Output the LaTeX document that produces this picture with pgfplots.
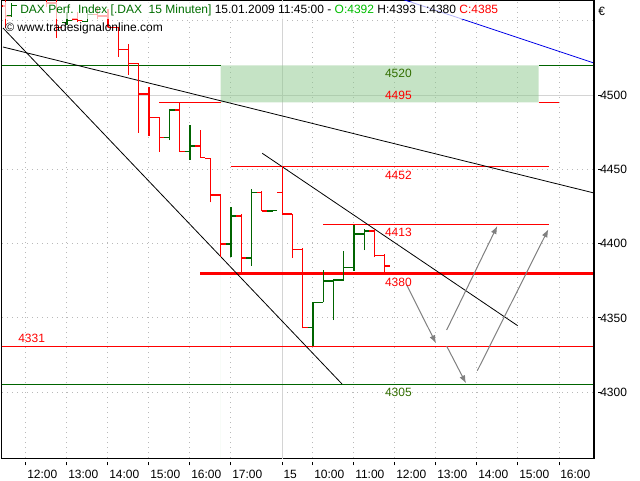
\documentclass[border=0pt]{standalone}
\usepackage{pgfplots}
\pgfplotsset{compat=1.18}
\usepackage{pgfplotstable}
\usepackage{fontspec}
\setmainfont{Liberation Sans}
\usetikzlibrary{arrows.meta}

\definecolor{barred}{RGB}{255,0,0}
\definecolor{bargreen}{RGB}{0,100,0}
\definecolor{linegreen}{RGB}{0,100,0}
\definecolor{lblgreen}{RGB}{50,110,0}
\definecolor{titlegreen}{RGB}{0,110,0}
\definecolor{ogreen}{RGB}{0,190,0}
\definecolor{gridgray}{RGB}{185,185,185}
\definecolor{sepgray}{RGB}{212,212,212}
\definecolor{boxgreen}{RGB}{140,200,140}
\definecolor{arrowgray}{RGB}{128,128,128}
\definecolor{trendblue}{RGB}{0,0,230}

% 15-minute OHLC bars, k = bar index (12:00 = 0, 15 Jan 10:00 = 28)
\pgfplotstableread{
k O H L C
-1 4567 4576 4565 4572
0 4572 4580 4568 4574
4 4548.7 4556 4547 4550
6 4549.5 4557 4549 4554
14 4471.5 4490 4469.7 4489.9
16 4461.9 4479.8 4456.3 4465.7
20 4399.8 4424.9 4390.8 4418.6
22 4390.2 4436.8 4385 4434.3
24 4422 4422.3 4421.7 4422.3
28 4343.5 4361 4331 4360.5
29 4360.5 4382.3 4360.5 4374.9
30 4374.9 4376.2 4348.6 4375.5
31 4375.5 4395 4375.5 4384.1
32 4384.1 4412.5 4381.8 4406.5
33 4406.5 4410 4395.7 4408.5
}\upbars
\pgfplotstableread{
k O H L C
-2 4560 4566 4545 4553
1 4574 4577 4566 4567
2 4567 4569 4559 4562
3 4562 4564 4538.6 4545.5
5 4551 4556 4549 4550
7 4554 4560 4551 4553
8 4553 4558 4545.5 4545.5
9 4545.5 4546 4525.8 4530.7
10 4530.7 4534.3 4513.5 4521.3
11 4521.3 4521.5 4474.6 4500.7
12 4500.7 4505.6 4472.4 4485
13 4485 4485.4 4461.9 4471.5
15 4489.9 4495 4461.9 4461.9
17 4465.7 4476.5 4458 4458
18 4457.4 4457.4 4427.8 4432.7
19 4432.7 4432.7 4391.2 4399.8
21 4418.6 4420 4380 4390.2
23 4434.3 4435.4 4422 4422
25 4434.3 4452 4420 4420
26 4420 4420 4390.2 4396.2
27 4396.2 4396.8 4343 4343.5
34 4408.5 4410 4391 4392
35 4392 4393 4380 4385
}\downbars

\begin{document}
\begin{tikzpicture}[font=\fontsize{9pt}{11pt}\selectfont]
\begin{axis}[
  scale only axis, width=444pt, height=342.75pt,
  xmin=-2.341, xmax=55.415, ymin=4255.8, ymax=4563.24,
  axis line style={black, line width=0.75pt},
  xtick={0,4,8,12,16,20,25,28,32,36,40,44,48,52},
  xticklabels={12:00,13:00,14:00,15:00,16:00,17:00,15,10:00,11:00,12:00,13:00,14:00,15:00,16:00},
  ytick={4300,4350,4400,4450,4500},
  extra y ticks={4550}, extra y tick labels={},
  extra y tick style={major tick length=0pt, grid=major},
  xtick pos=bottom, ytick pos=right, yticklabel pos=right,
  xmajorgrids, ymajorgrids,
  major grid style={gridgray, line width=0.75pt, dash pattern=on 0.75pt off 3pt},
  tick align=outside, major tick length=2.5pt,
  xtick style={black, line width=0.75pt, yshift=-3pt},
  ytick style={black, line width=0.75pt, xshift=3pt},
  xticklabel style={anchor=north west, inner sep=0pt, xshift=0.75pt, yshift=-6.5pt},
  yticklabel style={anchor=west, inner sep=0pt, xshift=2pt},
  tick label style={font=\fontsize{9pt}{11pt}\selectfont},
  /pgf/number format/assume math mode=true,
  /pgf/number format/1000 sep={},
]
% solid light-grey lines: day separator and 4500
\addplot[sepgray, line width=0.75pt] coordinates {(25,4200) (25,4600)};
\addplot[sepgray, line width=0.75pt] coordinates {(-5,4500) (60,4500)};

% resistance zone 4495-4520
\addplot[draw=none, fill=boxgreen, fill opacity=0.5] coordinates {(19,4495) (50,4495) (50,4520) (19,4520)} \closedcycle;

% horizontal levels
\addplot[linegreen, line width=0.75pt] coordinates {(-5,4520) (19,4520)};
\addplot[linegreen, line width=0.75pt] coordinates {(50,4520) (60,4520)};
\addplot[barred, line width=0.75pt] coordinates {(13,4495) (19,4495)};
\addplot[barred, line width=0.75pt] coordinates {(50,4495) (52,4495)};
\addplot[barred, line width=0.75pt] coordinates {(20,4452) (51,4452)};
\addplot[barred, line width=0.75pt] coordinates {(29,4413) (51,4413)};
\addplot[barred, line width=2.25pt] coordinates {(17,4380) (60,4380)};
\addplot[barred, line width=0.75pt] coordinates {(-5,4331) (60,4331)};
\addplot[linegreen, line width=0.75pt] coordinates {(-5,4305) (60,4305)};

% trend lines
\addplot[black, line width=0.6pt] coordinates {(-2.244,4545.07) (30.83,4305.6)};
\addplot[black, line width=0.6pt] coordinates {(-2.244,4532.3) (55.41,4434.1)};
\addplot[black, line width=0.6pt] coordinates {(23.05,4460.8) (47.97,4344.8)};
\addplot[trendblue, line width=0.6pt] coordinates {(36.0,4566.1) (55.41,4521.5)};

% OHLC bars
\addplot[barred, line width=0.8pt, quiver={u=0, v=\thisrow{H}-\thisrow{L}}] table[x=k, y=L] {\downbars};
\addplot[barred, line width=1.1pt, quiver={u=0.5, v=0}] table[x expr=\thisrow{k}-0.5, y=O] {\downbars};
\addplot[barred, line width=1.1pt, quiver={u=0.5, v=0}] table[x=k, y=C] {\downbars};
\addplot[bargreen, line width=0.8pt, quiver={u=0, v=\thisrow{H}-\thisrow{L}}] table[x=k, y=L] {\upbars};
\addplot[bargreen, line width=1.1pt, quiver={u=0.5, v=0}] table[x expr=\thisrow{k}-0.5, y=O] {\upbars};
\addplot[bargreen, line width=1.1pt, quiver={u=0.5, v=0}] table[x=k, y=C] {\upbars};

% scenario arrows
\addplot[arrowgray, line width=0.75pt, -{Latex[length=6pt, width=4.5pt]}] coordinates {(37.14,4372.2) (40.0,4332.97)};
\addplot[arrowgray, line width=0.75pt, -{Latex[length=6pt, width=4.5pt]}] coordinates {(41.04,4331.1) (42.93,4306)};
\addplot[arrowgray, line width=0.75pt, -{Latex[length=6pt, width=4.5pt]}] coordinates {(41.04,4341.9) (45.98,4411.9)};
\addplot[arrowgray, line width=0.75pt, -{Latex[length=6pt, width=4.5pt]}] coordinates {(44.03,4314.5) (50.96,4409.7)};

% level labels
\node[lblgreen, anchor=west, inner sep=0pt] at (axis cs:35,4514.8) {4520};
\node[barred, anchor=west, inner sep=0pt] at (axis cs:35,4500) {4495};
\node[barred, anchor=west, inner sep=0pt] at (axis cs:35,4446.2) {4452};
\node[barred, anchor=west, inner sep=0pt] at (axis cs:35,4407.8) {4413};
\node[barred, anchor=west, inner sep=0pt] at (axis cs:35,4374.2) {4380};
\node[lblgreen, anchor=west, inner sep=0pt] at (axis cs:35,4300.2) {4305};
\node[barred, anchor=west, inner sep=0pt] at (axis cs:-0.78,4336.5) {4331};
\end{axis}
% thicker right frame
\draw[black, line width=1.5pt] (current axis.south east) -- (current axis.north east);
% header
\fill[white, opacity=0.7] ([shift={(0.75pt,-0.75pt)}]current axis.north west) rectangle ([shift={(373.5pt,-13.5pt)}]current axis.north west);
\draw[titlegreen, line width=0.75pt] ([shift={(7.5pt,-1.75pt)}]current axis.north west) -- ([shift={(7.5pt,-11.75pt)}]current axis.north west);
\draw[titlegreen, line width=0.75pt] ([shift={(3.75pt,-10.5pt)}]current axis.north west) -- ([shift={(7.5pt,-10.5pt)}]current axis.north west);
\draw[titlegreen, line width=0.75pt] ([shift={(7.5pt,-3pt)}]current axis.north west) -- ([shift={(11.25pt,-3pt)}]current axis.north west);
\node[anchor=west, inner sep=0pt] at ([shift={(13.5pt,-7.1pt)}]current axis.north west)
  {\textcolor{titlegreen}{DAX Perf. Index [.DAX\ \ 15 Minuten]} 15.01.2009 11:45:00 - \textcolor{ogreen}{O:4392} H:4393 L:4380 \textcolor{red}{C:4385}};
\node[anchor=west, inner sep=0pt] at ([shift={(2.25pt,-20.25pt)}]current axis.north west) {© www.tradesignalonline.com};
\node[anchor=west, inner sep=0pt] at ([shift={(3pt,-7.5pt)}]current axis.north east) {€};
% page size 640x480 px
\pgfresetboundingbox
\path ([shift={(-1.5pt,-16.5pt)}]current axis.south west) rectangle ([shift={(34.5pt,0.75pt)}]current axis.north east);
\end{tikzpicture}
\end{document}
